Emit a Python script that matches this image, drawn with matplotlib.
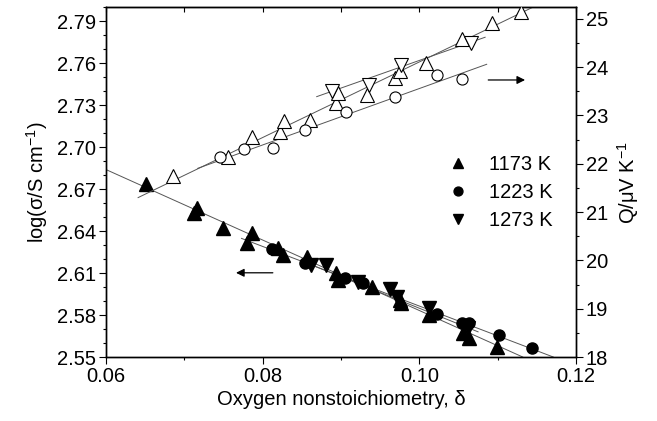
import numpy as np
import matplotlib
matplotlib.use("Agg")
import matplotlib.pyplot as plt
from matplotlib.ticker import MultipleLocator, FormatStrFormatter

plt.rcParams['font.family'] = ['Liberation Sans', 'DejaVu Sans']
plt.rcParams['mathtext.fontset'] = 'custom'
plt.rcParams['mathtext.rm'] = 'Liberation Sans'
plt.rcParams['font.size'] = 14.5

# conductivity, log(sigma) vs delta (filled symbols, left axis)
d_sig_1173 = [0.0651, 0.0713, 0.0716, 0.0749, 0.0780, 0.0786, 0.0819, 0.0826,
              0.0857, 0.0894, 0.0896, 0.0939, 0.0975, 0.0977, 0.1012, 0.1056,
              0.1063, 0.1099]
sig_1173 = [2.6736, 2.6530, 2.6562, 2.6419, 2.6316, 2.6388, 2.6280, 2.6229,
            2.6218, 2.6098, 2.6050, 2.6000, 2.5907, 2.5884, 2.5800, 2.5669,
            2.5634, 2.5574]
d_sig_1223 = [0.0812, 0.0854, 0.0905, 0.0928, 0.1023, 0.1054, 0.1064, 0.1102,
              0.1144]
sig_1223 = [2.6272, 2.6169, 2.6062, 2.6026, 2.5807, 2.5745, 2.5745, 2.5657,
            2.5562]
d_sig_1273 = [0.0862, 0.0881, 0.0922, 0.0962, 0.0971, 0.1012, 0.1062]
sig_1273 = [2.6160, 2.6157, 2.6038, 2.5984, 2.5930, 2.5848, 2.5710]

# thermopower Q vs delta (open symbols, right axis)
d_q_1173 = [0.0685, 0.0756, 0.0786, 0.0822, 0.0827, 0.0860, 0.0894, 0.0896,
            0.0933, 0.0969, 0.0975, 0.1008, 0.1054, 0.1093, 0.1130]
q_1173 = [21.75, 22.15, 22.56, 22.66, 22.89, 22.91, 23.25, 23.46,
          23.42, 23.77, 23.93, 24.09, 24.58, 24.92, 25.15]
d_q_1223 = [0.0745, 0.0776, 0.0813, 0.0854, 0.0907, 0.0969, 0.1023, 0.1054]
q_1223 = [22.15, 22.30, 22.32, 22.69, 23.08, 23.39, 23.84, 23.75]
d_q_1273 = [0.0889, 0.0936, 0.0976, 0.1066]
q_1273 = [23.51, 23.63, 24.05, 24.51]

# linear fits (end points)
fit_sig_x = [[0.0600, 0.1132], [0.0773, 0.1171], [0.0855, 0.1075]]
fit_sig_y = [[2.684, 2.550], [2.6348, 2.550], [2.6175, 2.568]]
fit_q_x = [[0.0641, 0.1146], [0.0717, 0.1086], [0.0869, 0.1084]]
fit_q_y = [[21.30, 25.25], [21.905, 24.06], [23.39, 24.62]]

labels = ['1173 K', '1223 K', '1273 K']
markers = ['^', 'o', 'v']

fig = plt.figure(figsize=(6.57, 4.21), dpi=100)
ax = fig.add_axes([0.1613, 0.152, 0.7154, 0.8307])
ax2 = ax.twinx()

line_kw = dict(color='#555555', lw=0.7, zorder=1)
for fx, fy in zip(fit_sig_x, fit_sig_y):
    ax.plot(fx, fy, **line_kw)
for fx, fy in zip(fit_q_x, fit_q_y):
    ax2.plot(fx, fy, **line_kw)

sig_sets = [(d_sig_1173, sig_1173), (d_sig_1223, sig_1223), (d_sig_1273, sig_1273)]
q_sets = [(d_q_1173, q_1173), (d_q_1223, q_1223), (d_q_1273, q_1273)]
sizes = [9.5, 8, 9.5]

handles = []
for (x, y), m, s, lab in zip(sig_sets, markers, sizes, labels):
    h, = ax.plot(x, y, ls='none', marker=m, ms=s, color='black',
                 mec='black', label=lab, zorder=3)
    handles.append(h)
for (x, y), m, s in zip(q_sets, markers, sizes):
    ax2.plot(x, y, ls='none', marker=m, ms=s, mfc='white', mec='black',
             mew=0.8, zorder=3)

ax.set_xlim(0.06, 0.12)
ax.set_ylim(2.55, 2.80)
ax2.set_ylim(18, 25.24)

ax.xaxis.set_major_locator(MultipleLocator(0.02))
ax.xaxis.set_minor_locator(MultipleLocator(0.01))
ax.xaxis.set_major_formatter(FormatStrFormatter('%.2f'))
ax.yaxis.set_major_locator(MultipleLocator(0.03))
ax.yaxis.set_minor_locator(MultipleLocator(0.01))
ax.yaxis.set_major_formatter(FormatStrFormatter('%.2f'))
ax2.yaxis.set_major_locator(MultipleLocator(1))
ax2.yaxis.set_minor_locator(MultipleLocator(0.5))

ax.tick_params(which='major', direction='out', length=5, width=0.8,
               labelsize=14.5, top=False, pad=2)
ax.tick_params(which='minor', direction='out', length=2.5, width=0.8, top=False)
ax2.tick_params(which='major', direction='out', length=5, width=0.8,
                labelsize=14.5, pad=2)
ax2.tick_params(which='minor', direction='out', length=2.5, width=0.8)

# inward ticks on the top edge every 0.01
top = ax.secondary_xaxis('top')
top.set_xticks(np.arange(0.06, 0.1201, 0.01))
top.tick_params(direction='in', length=3.5, width=0.8, labeltop=False)
top.set_xticklabels([])

for a in (ax, ax2):
    for sp in a.spines.values():
        sp.set_linewidth(1.0)

ax.set_xlabel('Oxygen nonstoichiometry, δ', fontsize=14.5, labelpad=3)
ax.set_ylabel('log(σ/S cm$^{-1}$)', fontsize=14.5, labelpad=5)
ax2.set_ylabel('Q/μV K$^{-1}$', fontsize=14.5, rotation=90, labelpad=5)

# arrows pointing to the relevant axis
ax.annotate('', xy=(0.0766, 2.6102), xytext=(0.0813, 2.6102),
            arrowprops=dict(arrowstyle='-|>', color='black', lw=0.9,
                            mutation_scale=12, shrinkA=0, shrinkB=0))
ax2.annotate('', xy=(0.1135, 23.735), xytext=(0.1088, 23.735),
             arrowprops=dict(arrowstyle='-|>', color='black', lw=0.9,
                             mutation_scale=12, shrinkA=0, shrinkB=0))

ax2.legend(handles=handles, loc='upper left', bbox_to_anchor=(0.69, 0.63),
           frameon=False, handlelength=1.0, handletextpad=1.0,
           labelspacing=0.45, markerscale=0.8, fontsize=14.5)

fig.savefig('out.png', dpi=100)
